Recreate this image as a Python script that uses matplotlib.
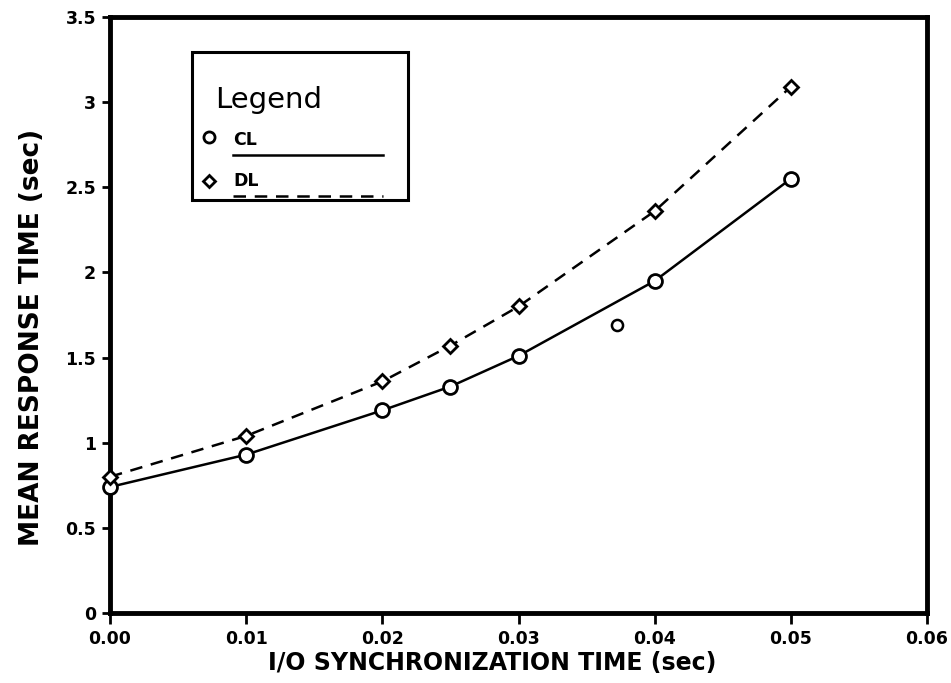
import matplotlib
matplotlib.use("Agg")
import matplotlib.pyplot as plt
from matplotlib.lines import Line2D
from matplotlib.patches import Rectangle

# Data
x_cl = [0.0, 0.01, 0.02, 0.025, 0.03, 0.04, 0.05]
y_cl = [0.74, 0.93, 1.19, 1.33, 1.51, 1.95, 2.55]
x_dl = [0.0, 0.01, 0.02, 0.025, 0.03, 0.04, 0.05]
y_dl = [0.80, 1.04, 1.36, 1.57, 1.80, 2.36, 3.09]
# stray mark visible in the scanned figure
x_stray = [0.0372]
y_stray = [1.69]

x_ticks = [0.0, 0.01, 0.02, 0.03, 0.04, 0.05, 0.06]
x_ticklabels = ["0.00", "0.01", "0.02", "0.03", "0.04", "0.05", "0.06"]
y_ticks = [0, 0.5, 1, 1.5, 2, 2.5, 3, 3.5]
y_ticklabels = ["0", "0.5", "1", "1.5", "2", "2.5", "3", "3.5"]

plt.rcParams['font.family'] = ['DejaVu Sans']
fig = plt.figure(figsize=(9.51, 6.83), dpi=100)
ax = fig.add_axes([110/951, 70/683, (927-110)/951, (613-17)/683])

ax.plot(x_cl, y_cl, '-', color='black', lw=1.8, zorder=3)
ax.plot(x_cl, y_cl, 'o', mfc='white', mec='black', mew=2.0, ms=10, ls='none', zorder=4, clip_on=False)
ax.plot(x_dl, y_dl, '--', color='black', lw=1.8, dashes=(5, 3.5), zorder=3)
ax.plot(x_dl, y_dl, 'D', mfc='white', mec='black', mew=2.0, ms=7, ls='none', zorder=4, clip_on=False)
ax.plot(x_stray, y_stray, 'o', mfc='white', mec='black', mew=1.8, ms=8, ls='none', zorder=4)

ax.set_xlim(0, 0.06)
ax.set_ylim(0, 3.5)
ax.set_xticks(x_ticks)
ax.set_xticklabels(x_ticklabels, fontsize=12.5, fontweight='bold')
ax.set_yticks(y_ticks)
ax.set_yticklabels(y_ticklabels, fontsize=12.5, fontweight='bold')
ax.tick_params(axis='both', direction='out', width=2, length=6, pad=4)
ax.tick_params(axis='x', length=8, pad=4)
for s in ax.spines.values():
    s.set_linewidth(3.5)

ax.set_xlabel("I/O SYNCHRONIZATION TIME (sec)", fontsize=17, fontweight='bold')
ax.xaxis.set_label_coords(0.468, -0.064)
ax.set_ylabel("MEAN RESPONSE TIME (sec)", fontsize=19, fontweight='bold')
ax.yaxis.set_label_coords(-0.08, 0.463)

# Legend box (hand-drawn style)
tr = ax.transAxes
def fx(px):
    return (px - 110) / (927 - 110)
def fy(py):
    return (613 - py) / (613 - 17)
ax.add_patch(Rectangle((fx(192), fy(200)), fx(408) - fx(192), fy(52) - fy(200),
                       transform=tr, fill=False, lw=2.2, ec='black', zorder=5))
ax.text(fx(215), fy(100), "Legend", transform=tr, fontsize=21, va='center', ha='left', zorder=6)
ax.add_line(Line2D([fx(209)], [fy(137)], marker='o', mfc='white', mec='black', mew=2, ms=8, transform=tr, zorder=6))
ax.text(fx(233), fy(140), "CL", transform=tr, fontsize=12.5, fontweight='bold', va='center', ha='left', zorder=6)
ax.add_line(Line2D([fx(233), fx(383)], [fy(155), fy(155)], color='black', lw=1.8, transform=tr, zorder=6))
ax.add_line(Line2D([fx(209)], [fy(181)], marker='D', mfc='white', mec='black', mew=2, ms=6, transform=tr, zorder=6))
ax.text(fx(233), fy(181), "DL", transform=tr, fontsize=12.5, fontweight='bold', va='center', ha='left', zorder=6)
ax.add_line(Line2D([fx(233), fx(383)], [fy(196), fy(196)], color='black', lw=1.8, ls='--', dashes=(5, 3.5), transform=tr, zorder=6))

fig.savefig("out.png", dpi=100)
